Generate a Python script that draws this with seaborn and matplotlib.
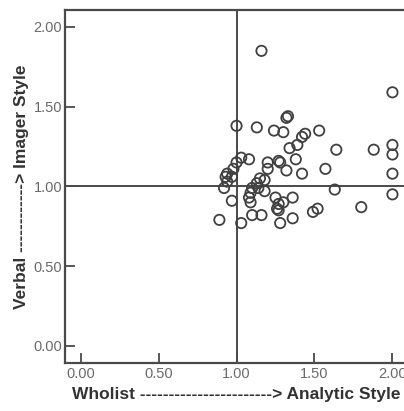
import pandas as pd
import matplotlib
matplotlib.use("Agg")
import matplotlib.pyplot as plt
import seaborn as sns

# Cognitive style scores
wholist_analytic = [
    1.16, 2.00, 1.00, 1.13, 1.24, 1.30, 1.32, 1.33, 1.53, 1.44,
    1.42, 1.39, 1.34, 1.38, 1.64, 1.88, 2.00, 2.00, 2.00, 2.00,
    1.57, 1.42, 1.32, 1.28, 1.27, 1.03, 1.08, 1.00, 0.98, 0.94,
    0.93, 0.97, 0.94, 0.92, 0.97, 0.89, 1.03, 1.10, 1.16, 1.20,
    1.20, 1.15, 1.18, 1.13, 1.10, 1.14, 1.09, 1.08, 1.09, 1.18,
    1.25, 1.27, 1.27, 1.26, 1.28, 1.30, 1.36, 1.36, 1.49, 1.52,
    1.63, 1.80,
]
verbal_imager = [
    1.85, 1.59, 1.38, 1.37, 1.35, 1.34, 1.43, 1.44, 1.35, 1.33,
    1.31, 1.26, 1.24, 1.17, 1.23, 1.23, 1.26, 1.20, 1.08, 0.95,
    1.11, 1.08, 1.10, 1.15, 1.16, 1.18, 1.17, 1.15, 1.11, 1.08,
    1.06, 1.06, 1.03, 0.99, 0.91, 0.79, 0.77, 0.82, 0.82, 1.15,
    1.11, 1.05, 1.04, 1.02, 0.99, 0.99, 0.96, 0.93, 0.90, 0.97,
    0.93, 0.89, 0.85, 0.86, 0.77, 0.90, 0.93, 0.80, 0.84, 0.86,
    0.98, 0.87,
]
tick_values = [0.0, 0.5, 1.0, 1.5, 2.0]
tick_labels = ["0.00", "0.50", "1.00", "1.50", "2.00"]

df = pd.DataFrame({"wa": wholist_analytic, "vi": verbal_imager})

sns.set_style("ticks")
plt.rcParams["font.family"] = ["Liberation Sans", "DejaVu Sans"]

line_col = "#4a4a4a"

fig = plt.figure(figsize=(4.04, 4.11), dpi=100)
# axes runs a little past the right edge, like the cropped scan
ax = fig.add_axes([0.161, 0.117, 0.849, 0.859])

ax.axvline(1.0, color=line_col, lw=1.4, zorder=1)
ax.axhline(1.0, color=line_col, lw=1.4, zorder=1)

sns.scatterplot(data=df, x="wa", y="vi", ax=ax, marker="o", s=55,
                facecolors="none", edgecolor="#404040", linewidth=1.3, zorder=3)

ax.set_xlim(-0.1, 2.1)
ax.set_ylim(-0.107, 2.107)
ax.set_xticks(tick_values)
ax.set_xticklabels(tick_labels)
ax.set_yticks(tick_values)
ax.set_yticklabels(tick_labels)
ax.tick_params(direction="in", length=7, width=1.3, color=line_col,
               labelsize=10.5, labelcolor="#6a6a6a")
ax.tick_params(axis="x", pad=3)
ax.tick_params(axis="y", pad=2)

for side in ax.spines.values():
    side.set_color(line_col)
    side.set_linewidth(1.6)

ax.set_xlabel("Wholist -----------------------> Analytic Style",
              fontsize=12.5, fontweight="bold", color="#333333", labelpad=4)
ax.set_ylabel("Verbal ------------> Imager Style",
              fontsize=12.5, fontweight="bold", color="#333333", labelpad=3)

fig.savefig("out.png", dpi=100)
